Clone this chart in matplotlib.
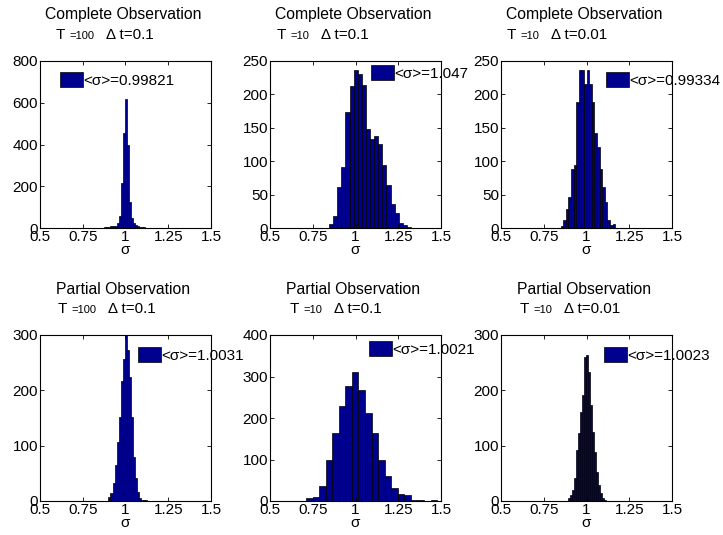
import numpy as np
import matplotlib.pyplot as plt

plt.rcParams['font.family'] = ['Liberation Sans', 'DejaVu Sans']

# histogram counts of the estimated sigma for each run
counts_complete_T100_dt01 = [1, 2, 3, 5, 6, 8, 9, 10, 22, 59, 214, 454, 618, 399,
                             126, 46, 26, 14, 10, 6, 4, 3, 2, 1]
counts_complete_T10_dt01 = [6, 18, 62, 91, 174, 213, 236, 230, 214, 148, 133, 138,
                            126, 94, 64, 36, 22, 8, 4, 1]
counts_complete_T10_dt001 = [3, 12, 29, 47, 89, 95, 189, 236, 236, 216, 237, 216,
                             189, 142, 121, 89, 62, 39, 12, 4, 6]
counts_partial_T100_dt01 = [8, 14, 32, 65, 107, 152, 217, 257, 301, 273, 225, 152,
                            80, 41, 17, 6, 2, 1, 1, 0]
counts_partial_T10_dt01 = [7, 10, 35, 99, 165, 230, 278, 310, 267, 213, 163, 99,
                           61, 32, 16, 14, 3, 2, 0, 3]
counts_partial_T10_dt001 = [5, 10, 20, 41, 92, 122, 161, 191, 260, 263, 234, 173,
                            125, 89, 53, 29, 14, 6, 2]

all_counts = [counts_complete_T100_dt01, counts_complete_T10_dt01, counts_complete_T10_dt001,
              counts_partial_T100_dt01, counts_partial_T10_dt01, counts_partial_T10_dt001]
bin_start = [0.852, 0.845, 0.849, 0.900, 0.711, 0.891]
bin_width = [0.012, 0.024, 0.0152, 0.012, 0.0383, 0.0116]
mean_sigma = [0.99821, 1.047, 0.99334, 1.0031, 1.0021, 1.0023]
obs_type = ['Complete', 'Complete', 'Complete', 'Partial', 'Partial', 'Partial']
T_vals = ['100', '10', '10', '100', '10', '10']
dt_vals = ['0.1', '0.1', '0.01', '0.1', '0.1', '0.01']
ymax = [800, 250, 250, 300, 400, 300]
ystep = [200, 50, 50, 100, 100, 100]
xticks = [0.5, 0.75, 1, 1.25, 1.5]

W, H = 723, 535
fig = plt.figure(figsize=(W / 100, H / 100), dpi=100)
r = fig.canvas.get_renderer()

lefts = [40, 270, 501]
tops = [61, 335]
aw = 171
ah = [167, 166]
# legend patch position (left, vertical centre) in pixels
leg_pos = [(60, 80), (371, 73), (606, 80), (138, 355), (369, 349), (604, 355)]
line2_left = [56, 277, 507, 58, 290, 520]

bar_color = '#00008F'


def fx(x):
    return x / W


def fy(y):
    return 1 - y / H


for k in range(6):
    row, col = divmod(k, 3)
    l, t, h = lefts[col], tops[row], ah[row]
    ax = fig.add_axes([fx(l), fy(t + h), aw / W, h / H])

    n = len(all_counts[k])
    centers = bin_start[k] + bin_width[k] * (np.arange(n) + 0.5)
    bars = ax.bar(centers, all_counts[k], width=bin_width[k], color=bar_color,
                  edgecolor='black', linewidth=0.5, label='<σ>=' + str(mean_sigma[k]))

    ax.set_xlim(0.5, 1.5)
    ax.set_ylim(0, ymax[k])
    ax.set_xticks(xticks)
    ax.set_xticklabels(['0.5', '0.75', '1', '1.25', '1.5'])
    ax.set_yticks(np.arange(0, ymax[k] + 1, ystep[k]))
    ax.tick_params(direction='in', top=True, right=True, length=3, width=0.6,
                   labelsize=11, pad=1.5)
    for s in ax.spines.values():
        s.set_linewidth(0.8)
    ax.set_xlabel('σ', fontsize=11, labelpad=-1)

    lx, ly = leg_pos[k]
    ax.legend(handles=[bars], loc='center left', bbox_to_anchor=(fx(lx), fy(ly)),
              bbox_transform=fig.transFigure, frameon=False, fontsize=11,
              handlelength=1.5, handleheight=1.15, handletextpad=0.0,
              borderpad=0, borderaxespad=0)

    # two-line title
    dy = tops[row] - tops[0]
    fig.text(fx(l + 83), fy(15 + dy), obs_type[k] + ' Observation', fontsize=11.3,
             ha='center', va='center')
    x = line2_left[k]
    y = 39 + dy
    for s, size in [('T ', 11), ('=' + T_vals[k], 8), ('   Δ t=' + dt_vals[k], 11)]:
        txt = fig.text(fx(x), fy(y), s, fontsize=size, va='baseline', ha='left')
        x += txt.get_window_extent(r).width

fig.savefig('out.png', dpi=100)
